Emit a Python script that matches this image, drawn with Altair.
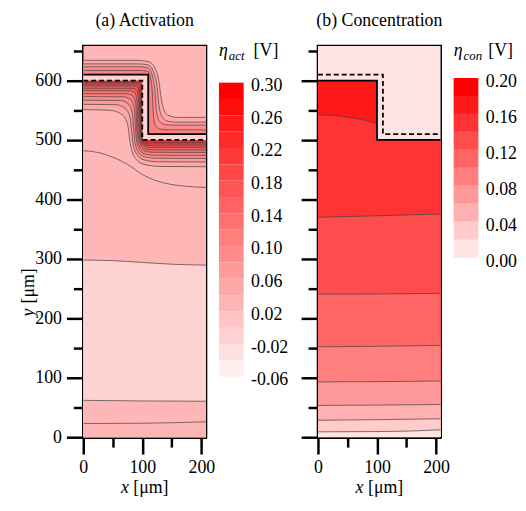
import altair as alt
import pandas as pd

FONT = "Liberation Serif"
W, H = 124, 395
X_DOM = [0, 208]
Y_DOM = [0, 658]

# ---------------- colour-bar levels ----------------
levels_a_lo = [-0.06, -0.04, -0.02, 0.00, 0.02, 0.04, 0.06, 0.08, 0.10,
               0.12, 0.14, 0.16, 0.18, 0.20, 0.22, 0.24, 0.26, 0.28]
levels_a_hi = [-0.04, -0.02, 0.00, 0.02, 0.04, 0.06, 0.08, 0.10, 0.12,
               0.14, 0.16, 0.18, 0.20, 0.22, 0.24, 0.26, 0.28, 0.30]
labels_a = [-0.06, -0.02, 0.02, 0.06, 0.10, 0.14, 0.18, 0.22, 0.26, 0.30]

levels_b_lo = [0.00, 0.02, 0.04, 0.06, 0.08, 0.10, 0.12, 0.14, 0.16, 0.18]
levels_b_hi = [0.02, 0.04, 0.06, 0.08, 0.10, 0.12, 0.14, 0.16, 0.18, 0.20]
labels_b = [0.00, 0.04, 0.08, 0.12, 0.16, 0.20]


def ramp(n, light):
    out = []
    for i in range(n):
        g = round(light * (n - 1 - i) / (n - 1))
        out.append("#ff{0:02x}{0:02x}".format(g))
    return out


colors_a = ramp(18, 238)
colors_b = ramp(10, 228)

# ---------------- geometry (um) ----------------
top_x = [0, 208]
top_y = [658, 658]
mem_low_x = [0, 100, 100, 208]
mem_low_y = [600, 600, 500, 500]
mem_up_x = [0, 110, 110, 208]
mem_up_y = [610, 610, 510, 510]

# panel (a): contour lines above the membrane, outer -> inner
a_up_x = [
    [0, 90, 110, 122, 128, 132, 137, 145, 160, 208],
    [0, 95, 110, 120, 125, 128, 133, 142, 155, 208],
    [0, 98, 110, 117, 121, 124, 129, 138, 150, 208],
    [0, 100, 110, 114, 117, 119, 123, 132, 145, 208],
]
a_up_y = [
    [634, 634, 632, 620, 600, 570, 550, 541, 538, 538],
    [628, 628, 626, 612, 590, 560, 540, 532, 530, 530],
    [623, 623, 621, 608, 585, 550, 532, 526, 525, 525],
    [617, 617, 615, 603, 580, 540, 523, 518, 517, 517],
]
a_up_band = [5, 6, 7, 8]
a_top_band = 4

# panel (a): contour lines below the membrane, inner -> outer
a_low_x = [
    [0, 90, 96, 98, 98.5, 99, 100.5, 104, 110, 208],
    [0, 88, 94, 96.5, 97, 97.6, 99.5, 103, 110, 208],
    [0, 85, 92, 95, 95.5, 96.2, 98.5, 103, 112, 208],
    [0, 82, 90, 93.3, 94, 94.8, 97.5, 103, 114, 208],
    [0, 78, 87, 91, 92, 93, 96.5, 103, 116, 208],
    [0, 73, 84, 89, 90, 91.2, 95.5, 103, 118, 208],
    [0, 68, 80, 86.5, 88, 89.5, 94.5, 103, 121, 208],
    [0, 62, 76, 83, 85, 87, 93, 103, 124, 208],
    [0, 55, 71, 79.5, 82, 84.5, 91.5, 103, 127, 208],
    [0, 45, 65, 75, 78, 81.5, 89, 103, 130, 208],
]
a_low_y = [
    [597, 596.8, 595.5, 585, 560, 520, 499, 497, 496.2, 496],
    [594, 593.8, 592, 580, 555, 520, 500, 495, 493.3, 493],
    [591, 590.8, 589, 577, 550, 518, 499, 492.5, 490.3, 490],
    [587, 586.8, 584.5, 572, 545, 515, 497, 489.5, 487.3, 487],
    [583, 582.8, 580, 566, 540, 512, 494, 486, 483.3, 483],
    [578, 577.7, 574, 560, 535, 508, 490, 482, 479.3, 479],
    [573, 572.6, 568, 553, 528, 504, 485, 477, 474.3, 474],
    [567, 566.5, 561, 546, 522, 499, 480, 472, 469.3, 469],
    [560, 559.4, 553, 537, 514, 493, 475, 466.5, 463.3, 463],
    [551, 550, 543, 527, 505, 485, 468, 459, 455.5, 455],
]
a_low_band = [13, 12, 11, 10, 9, 8, 7, 6, 5, 4]
a_mem_band = 14

# panel (a): lower contour lines (top -> bottom)
a_bot_x = [
    [0, 25, 50, 75, 100, 125, 150, 175, 208],
    [0, 50, 100, 150, 208],
    [0, 100, 208],
    [0, 100, 160, 208],
]
a_bot_y = [
    [482, 479, 471, 459, 442, 431, 425, 422, 420],
    [298, 297, 294, 291, 289.5],
    [62, 61, 60.5],
    [23, 23.5, 24.5, 26],
]
a_bot_band = [4, 2, 4, 4]

# panel (b)
b_top_band = 0
b_mem_band = 8
b_c0_x = [0, 23, 52, 80, 100]
b_c0_y = [542, 541.5, 538, 533, 528]
b_c0_band = 7
b_lines_x = [
    [0, 100, 208],
    [0, 100, 208],
    [0, 100, 208],
    [0, 100, 208],
    [0, 100, 208],
    [0, 100, 208],
    [0, 100, 160, 208],
]
b_lines_y = [
    [370, 372.5, 375.5],
    [240.5, 241, 242],
    [152, 153, 154.5],
    [93, 93.5, 94.5],
    [53.5, 54, 55],
    [28.5, 29.5, 31],
    [9, 9.5, 10.5, 12.5],
]
b_lines_band = [6, 5, 4, 3, 2, 1, 0]

# ---------------- helpers ----------------
TICK_SIZE = {"condition": {"test": "datum.value % 100 === 0", "value": 17}, "value": 10}
MAJOR_ONLY = "datum.value % 100 === 0 ? datum.label : ''"
HYPHEN_FMT = "datum.value < 0 ? '-' + format(-datum.value, '.2f') : format(datum.value, '.2f')"


def base_axis(values, labels=True, pad=6):
    return alt.Axis(values=values, labelExpr=MAJOR_ONLY, labels=labels,
                    tickSize=TICK_SIZE, tickWidth=2.5, tickColor="black",
                    domainColor="black", domainWidth=2.5,
                    labelFont=FONT, labelFontSize=18, labelColor="black",
                    labelPadding=pad, labelOverlap=False, labelFlush=False,
                    title=None, grid=False)


X_AXIS = base_axis([0, 50, 100, 150, 200], pad=5)
Y_AXIS_A = base_axis([0, 50, 100, 150, 200, 250, 300, 350, 400, 450, 500, 550, 600, 650], pad=5)
Y_AXIS_B = base_axis([0, 50, 100, 150, 200, 250, 300, 350, 400, 450, 500, 550, 600, 650], labels=False)


def frame(xs, ys, extra=None):
    d = pd.DataFrame({"x": xs, "y": ys, "i": list(range(len(xs)))})
    if extra:
        for k, v in extra.items():
            d[k] = v
    return d


def enc_xy(yaxis):
    return dict(
        x=alt.X("x:Q", scale=alt.Scale(domain=X_DOM, nice=False, zero=False), axis=X_AXIS),
        y=alt.Y("y:Q", scale=alt.Scale(domain=Y_DOM, nice=False, zero=False), axis=yaxis, stack=None),
    )


def fill(xs, ys, band, cscale, yaxis, interp="monotone", fixed=None):
    if fixed is not None:
        col = alt.value(fixed)
        d = frame(xs, ys)
    else:
        d = frame(xs, ys, {"band": band})
        col = alt.Color("band:O", scale=cscale, legend=None)
    return alt.Chart(d).mark_area(interpolate=interp, clip=True).encode(
        y2=alt.datum(0), color=col, **enc_xy(yaxis))


def cline(xs, ys, yaxis, interp="monotone", color="#444444", width=0.8, dash=None, opacity=0.9):
    kw = dict(interpolate=interp, clip=True, color=color, strokeWidth=width, opacity=opacity)
    if dash:
        kw["strokeDash"] = dash
    return alt.Chart(frame(xs, ys)).mark_line(**kw).encode(order="i:Q", **enc_xy(yaxis))


def colorbar(lo, hi, labels, cscale, domain, loff):
    n = len(lo)
    d = pd.DataFrame({"lo": lo, "hi": hi, "band": list(range(n))})
    return alt.Chart(d).mark_rect().encode(
        x=alt.value(137), x2=alt.value(162),
        y=alt.Y("lo:Q", scale=alt.Scale(domain=domain, nice=False, zero=False),
                axis=alt.Axis(orient="right", values=labels, labelExpr=HYPHEN_FMT, domain=False,
                              ticks=False, tickSize=0, labelPadding=5, offset=40,
                              labelOffset=loff, labelFont=FONT, labelFontSize=18,
                              labelColor="black", labelOverlap=False, grid=False, title=None)),
        y2="hi:Q",
        color=alt.Color("band:O", scale=cscale, legend=None),
    )


ONE = pd.DataFrame({"k": [0]})


def txt(s, x, y, size=18, style="normal", angle=0, align="left", baseline="alphabetic"):
    kw = dict(text=s, font=FONT, fontSize=size, fontStyle=style, align=align,
              baseline=baseline, color="black")
    if angle:
        kw["angle"] = angle
    return alt.Chart(ONE).mark_text(**kw).encode(x=alt.value(x), y=alt.value(y))


def titles(panel_title, sub, with_y):
    out = [
        txt(panel_title, 62, -34, align="center", baseline="top"),
        txt("\u03b7", 137, 10, style="italic"),
        txt(sub, 147, 14, size=13, style="italic"),
        txt("[V]", 172, 10),
        txt("x", 38, 455, style="italic", baseline="bottom"),
        txt("[\u03bcm]", 50.5, 455, baseline="bottom"),
    ]
    if with_y:
        out += [txt("y", -50, 273, style="italic", angle=270),
                txt("[\u03bcm]", -50, 260, angle=270)]
    return out


# ---------------- panel (a) ----------------
cs_a = alt.Scale(domain=list(range(18)), range=colors_a)
la = [fill(top_x, top_y, a_top_band, cs_a, Y_AXIS_A, interp="linear")]
for xs, ys, b in zip(a_up_x, a_up_y, a_up_band):
    la.append(fill(xs, ys, b, cs_a, Y_AXIS_A))
la.append(fill(mem_up_x, mem_up_y, None, cs_a, Y_AXIS_A, interp="linear", fixed="#ffd6d6"))
la.append(fill(mem_low_x, mem_low_y, a_mem_band, cs_a, Y_AXIS_A, interp="linear"))
for xs, ys, b in zip(a_low_x, a_low_y, a_low_band):
    la.append(fill(xs, ys, b, cs_a, Y_AXIS_A))
for xs, ys, b in zip(a_bot_x, a_bot_y, a_bot_band):
    la.append(fill(xs, ys, b, cs_a, Y_AXIS_A))
for xs, ys in zip(a_up_x + a_low_x + a_bot_x, a_up_y + a_low_y + a_bot_y):
    la.append(cline(xs, ys, Y_AXIS_A))
la.append(cline(mem_up_x, mem_up_y, Y_AXIS_A, interp="linear", color="black", width=1.8, opacity=1))
la.append(cline(mem_low_x, mem_low_y, Y_AXIS_A, interp="linear", color="black", width=1.8,
                dash=[5, 3], opacity=1))
inner_a = alt.layer(*la)

panel_a = alt.layer(
    inner_a,
    colorbar(levels_a_lo, levels_a_hi, labels_a, cs_a, [-0.1339, 0.3448], 3),
    *titles("(a) Activation", "act", True),
).resolve_scale(y="independent").properties(width=W, height=H)

# ---------------- panel (b) ----------------
cs_b = alt.Scale(domain=list(range(10)), range=colors_b)
lb = [fill(top_x, top_y, b_top_band, cs_b, Y_AXIS_B, interp="linear"),
      fill(mem_low_x, mem_low_y, b_mem_band, cs_b, Y_AXIS_B, interp="linear"),
      fill(b_c0_x + mem_low_x[2:], b_c0_y + mem_low_y[2:], b_c0_band, cs_b, Y_AXIS_B, interp="linear")]
for xs, ys, b in zip(b_lines_x, b_lines_y, b_lines_band):
    lb.append(fill(xs, ys, b, cs_b, Y_AXIS_B))
lb.append(cline(b_c0_x, b_c0_y, Y_AXIS_B))
for xs, ys in zip(b_lines_x, b_lines_y):
    lb.append(cline(xs, ys, Y_AXIS_B))
lb.append(cline(mem_up_x, mem_up_y, Y_AXIS_B, interp="linear", color="black", width=1.8,
                dash=[5, 3], opacity=1))
lb.append(cline(mem_low_x, mem_low_y, Y_AXIS_B, interp="linear", color="black", width=1.8, opacity=1))
inner_b = alt.layer(*lb)

panel_b = alt.layer(
    inner_b,
    colorbar(levels_b_lo, levels_b_hi, labels_b, cs_b, [-0.1999, 0.2356], 4),
    *titles("(b) Concentration", "con", False),
).resolve_scale(y="independent").properties(width=W, height=H)

chart = alt.hconcat(panel_a, panel_b, spacing=9).resolve_scale(
    x="independent", y="independent", color="independent"
).properties(
    padding={"left": 10, "top": 0, "right": 0, "bottom": 0}
).configure_view(stroke="black", strokeWidth=2.5)

chart.save("out.html", embed_options={"renderer": "svg", "actions": False})
